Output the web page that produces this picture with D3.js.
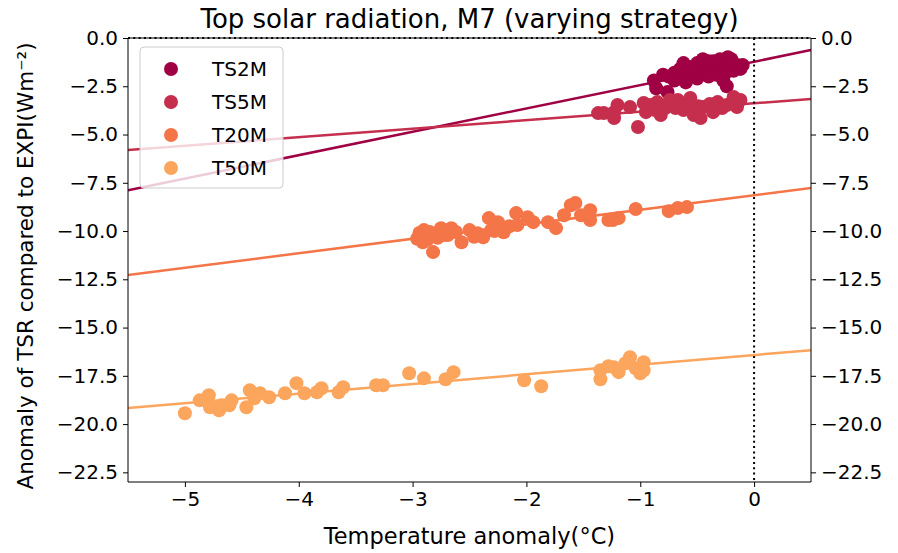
<!DOCTYPE html>
<html>
<head>
<meta charset="utf-8">
<script src="https://cdn.jsdelivr.net/npm/d3@7"></script>
<style>
  html, body { margin: 0; padding: 0; background: #fff; }
  text { font-family: "DejaVu Sans", sans-serif; }
</style>
</head>
<body>
<svg id="chart" width="898" height="553"></svg>
<script>
// Series names and colours
const seriesNames = ["TS2M", "TS5M", "T20M", "T50M"];
const seriesColors = ["#a00044", "#c52e4c", "#f47548", "#fca55d"];

// Temperature anomaly (°C) and TSR anomaly (W m-2) per series
const ts2mX = [-0.88,-0.86,-0.76,-0.80,-0.75,-0.70,-0.65,-0.62,-0.60,-0.58,-0.55,-0.52,-0.50,-0.48,-0.45,-0.42,-0.40,-0.38,-0.36,-0.35,-0.33,-0.30,-0.28,-0.27,-0.25,-0.23,-0.20,-0.18,-0.15,-0.12,-0.45,-0.50,-0.65,-0.70,-0.40,-0.30,-0.24,-0.10,-0.55,-0.60,-0.33,-0.20];
const ts2mY = [-2.2,-2.6,-2.8,-1.9,-2.0,-1.8,-2.1,-1.3,-1.7,-2.0,-1.9,-1.6,-2.1,-1.5,-1.8,-1.4,-2.0,-1.7,-1.2,-1.5,-1.9,-1.6,-1.3,-2.2,-1.8,-1.0,-1.5,-1.7,-1.4,-1.6,-1.1,-1.3,-1.6,-2.2,-1.2,-1.1,-2.5,-1.4,-1.5,-2.3,-1.3,-1.1];

const ts5mX = [-1.37,-1.32,-1.23,-1.20,-1.23,-1.02,-1.09,-0.97,-0.95,-0.85,-0.82,-0.78,-0.74,-0.67,-0.62,-0.58,-0.53,-0.49,-0.45,-0.47,-0.39,-0.32,-0.28,-0.24,-0.18,-0.15,-0.12,-0.91,-0.87,-0.69,-0.56,-0.36];
const ts5mY = [-3.89,-3.89,-3.84,-3.47,-4.15,-4.61,-3.58,-3.37,-3.84,-3.32,-3.99,-3.63,-3.21,-3.21,-3.73,-3.42,-3.99,-3.53,-3.58,-4.15,-3.42,-3.32,-3.63,-3.47,-3.06,-3.58,-3.21,-3.47,-3.73,-3.63,-3.11,-3.84];

const t20mX = [-2.94,-2.90,-2.91,-2.82,-2.75,-2.66,-2.69,-2.57,-2.50,-2.43,-2.38,-2.33,-2.31,-2.25,-2.20,-2.09,-2.08,-1.99,-1.94,-1.81,-1.74,-1.67,-1.61,-1.57,-1.44,-1.44,-1.28,-1.52,-1.24,-1.19,-1.04,-0.75,-0.67,-0.59,-2.96,-2.87,-2.85,-2.78,-2.72,-2.62,-2.46,-2.28,-2.15];
const t20mY = [-10.10,-9.95,-10.58,-11.09,-9.85,-9.85,-10.21,-10.58,-9.95,-10.11,-10.32,-9.33,-9.95,-9.54,-10.06,-9.07,-9.69,-9.28,-9.54,-9.54,-9.85,-9.18,-8.66,-8.55,-8.92,-9.43,-9.43,-9.18,-9.43,-9.33,-8.86,-8.97,-8.81,-8.76,-10.40,-10.45,-10.05,-10.35,-10.20,-10.05,-10.30,-10.00,-9.75];

const t50mX = [-5.00,-4.87,-4.79,-4.78,-4.70,-4.68,-4.61,-4.59,-4.46,-4.43,-4.39,-4.34,-4.26,-4.12,-4.02,-3.95,-3.84,-3.80,-3.65,-3.61,-3.32,-3.26,-3.03,-2.90,-2.71,-2.64,-2.02,-1.87,-1.35,-1.35,-1.23,-1.19,-1.13,-1.09,-1.04,-0.97,-0.97,-1.00,-1.28];
const t50mY = [-19.44,-18.77,-18.51,-19.13,-19.28,-19.03,-19.03,-18.77,-19.13,-18.25,-18.66,-18.40,-18.61,-18.40,-17.88,-18.40,-18.35,-18.14,-18.35,-18.09,-17.99,-17.99,-17.37,-17.63,-17.68,-17.31,-17.73,-18.04,-17.21,-17.68,-17.06,-17.31,-16.85,-16.54,-17.11,-16.80,-17.21,-17.37,-17.00];

// Linear fit per series: slope and intercept
const fitSlopes = [1.21, 0.44, 0.75, 0.50];
const fitIntercepts = [-1.23, -3.38, -8.15, -16.42];

// Axis ticks
const xTicks = [-5, -4, -3, -2, -1, 0];
const yTicks = [0, -2.5, -5, -7.5, -10, -12.5, -15, -17.5, -20, -22.5];

const seriesX = [ts2mX, ts5mX, t20mX, t50mX];
const seriesY = [ts2mY, ts5mY, t20mY, t50mY];

const svg = d3.select("#chart");
const margin = { left: 128, right: 87, top: 38, bottom: 71 };
const W = 898, H = 553;
const plotW = W - margin.left - margin.right;
const plotH = H - margin.top - margin.bottom;

const x = d3.scaleLinear().domain([-5.5, 0.5]).range([0, plotW]);
const y = d3.scaleLinear().domain([-23, 0]).range([plotH, 0]);

const g = svg.append("g").attr("transform", `translate(${margin.left},${margin.top})`);

const fmtY = d => d3.format(".1f")(d).replace("-", "\u2212");
const fmtX = d => d3.format("d")(d).replace("-", "\u2212");

// Clip region for the plotted marks
svg.append("defs").append("clipPath").attr("id", "plotClip")
  .append("rect").attr("width", plotW).attr("height", plotH);

const marks = g.append("g").attr("clip-path", "url(#plotClip)");

// Fit lines
seriesNames.forEach((name, i) => {
  const xs = x.domain();
  marks.append("line")
    .attr("x1", x(xs[0])).attr("y1", y(fitSlopes[i] * xs[0] + fitIntercepts[i]))
    .attr("x2", x(xs[1])).attr("y2", y(fitSlopes[i] * xs[1] + fitIntercepts[i]))
    .attr("stroke", seriesColors[i]).attr("stroke-width", 2.5);
});

// Scatter points
seriesNames.forEach((name, i) => {
  const pts = seriesX[i].map((v, j) => [v, seriesY[i][j]]);
  marks.append("g").selectAll("circle").data(pts).join("circle")
    .attr("cx", d => x(d[0])).attr("cy", d => y(d[1]))
    .attr("r", 7).attr("fill", seriesColors[i]);
});

// Reference line at zero temperature anomaly
marks.append("line")
  .attr("x1", x(0)).attr("x2", x(0)).attr("y1", 0).attr("y2", plotH)
  .attr("stroke", "#000").attr("stroke-width", 2).attr("stroke-dasharray", "2,3.3");

// Axes
const axisStyle = sel => {
  sel.selectAll("text").attr("font-size", 20).attr("fill", "#000").style("font-family", "DejaVu Sans, sans-serif");
  sel.selectAll("line").attr("stroke", "#000").attr("stroke-width", 1);
  sel.select(".domain").remove();
};

g.append("g").attr("transform", `translate(0,${plotH})`)
  .call(d3.axisBottom(x).tickValues(xTicks).tickFormat(fmtX).tickSize(5).tickPadding(5))
  .call(axisStyle);

g.append("g")
  .call(d3.axisLeft(y).tickValues(yTicks).tickFormat(fmtY).tickSize(5).tickPadding(5))
  .call(axisStyle);

g.append("g").attr("transform", `translate(${plotW},0)`)
  .call(d3.axisRight(y).tickValues(yTicks).tickFormat(fmtY).tickSize(5).tickPadding(5))
  .call(axisStyle);

// Frame
g.append("line").attr("x1", 0).attr("x2", 0).attr("y1", 0).attr("y2", plotH).attr("stroke", "#000");
g.append("line").attr("x1", plotW).attr("x2", plotW).attr("y1", 0).attr("y2", plotH).attr("stroke", "#000");
g.append("line").attr("x1", 0).attr("x2", plotW).attr("y1", plotH).attr("y2", plotH).attr("stroke", "#000");
g.append("line").attr("x1", 0).attr("x2", plotW).attr("y1", 0).attr("y2", 0).attr("stroke", "#000");
// Reference line at zero TSR anomaly
g.append("line").attr("x1", 0).attr("x2", plotW).attr("y1", y(0)).attr("y2", y(0))
  .attr("stroke", "#000").attr("stroke-width", 2).attr("stroke-dasharray", "2,3.3");

// Title and axis labels
svg.append("text").attr("x", margin.left + plotW / 2).attr("y", 28)
  .attr("text-anchor", "middle").attr("font-size", 26).text("Top solar radiation, M7 (varying strategy)");

svg.append("text").attr("x", margin.left + plotW / 2).attr("y", 544)
  .attr("text-anchor", "middle").attr("font-size", 22.5).text("Temperature anomaly(°C)");

svg.append("text")
  .attr("transform", `translate(33,${margin.top + plotH / 2 + 6}) rotate(-90)`)
  .attr("text-anchor", "middle").attr("font-size", 21.5).text("Anomaly of TSR compared to EXPI(Wm\u207B\u00B2)");

// Legend
const legend = g.append("g").attr("transform", "translate(12,9)");
legend.append("rect").attr("width", 143).attr("height", 141).attr("rx", 4)
  .attr("fill", "#fff").attr("fill-opacity", 0.8).attr("stroke", "#ccc").attr("stroke-width", 1);
seriesNames.forEach((name, i) => {
  const row = legend.append("g").attr("transform", `translate(0,${22 + i * 33})`);
  row.append("circle").attr("cx", 31).attr("cy", 0).attr("r", 7).attr("fill", seriesColors[i]);
  row.append("text").attr("x", 72).attr("y", 7).attr("font-size", 20).text(name);
});
</script>
</body>
</html>
